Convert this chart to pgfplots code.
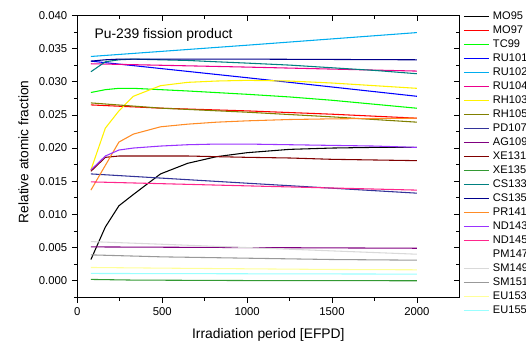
\documentclass[border=0pt]{standalone}
\usepackage{pgfplots}
\pgfplotsset{compat=1.18}
\usepackage{fontspec}
\setmainfont{Liberation Sans}
\definecolor{cOlive}{rgb}{0.5,0.5,0}
\definecolor{cPD}{rgb}{0.2,0.2,0.6}
\definecolor{cAG}{rgb}{0.5,0,0.5}
\definecolor{cXE1}{rgb}{0.5,0,0}
\definecolor{cXE5}{rgb}{0.2,0.6,0.2}
\definecolor{cCS3}{rgb}{0,0.5,0.5}
\definecolor{cCS5}{rgb}{0,0,0.55}
\definecolor{cPR}{rgb}{1,0.55,0.15}
\definecolor{cND3}{rgb}{0.6,0.2,1}
\definecolor{cND5}{rgb}{1,0.15,0.55}
\definecolor{cSM9}{rgb}{0.85,0.85,0.85}
\definecolor{cSM1}{rgb}{0.6,0.6,0.6}
\definecolor{cEU3}{rgb}{1,1,0.6}
\definecolor{cEU5}{rgb}{0.6,1,1}
\begin{document}
\begin{tikzpicture}
\useasboundingbox (-58pt,-35pt) rectangle (336.5pt,223pt);
\begin{axis}[
  at={(0pt,0pt)}, anchor=south west,
  width=286.5pt, height=211.5pt, scale only axis,
  xmin=0, xmax=2250, ymin=-0.0025, ymax=0.040,
  xtick={0,500,1000,1500,2000},
  minor xtick={250,750,1250,1750},
  ytick={0,0.005,0.010,0.015,0.020,0.025,0.030,0.035,0.040},
  minor ytick={-0.0025,0.0025,0.0075,0.0125,0.0175,0.0225,0.0275,0.0325,0.0375},
  scaled y ticks=false, scaled x ticks=false,
  xticklabel style={/pgf/number format/set thousands separator={}},
  yticklabel style={/pgf/number format/fixed,/pgf/number format/precision=3,/pgf/number format/fixed zerofill},
  /pgf/number format/assume math mode=true,
  ticklabel style={font=\fontsize{8.5}{10}\selectfont},
  tick align=outside, tick pos=left,
  major tick length=4pt, minor tick length=2.5pt,
  tick style={black, line width=0.5pt},
  axis line style={line width=0.7pt},
  xlabel={Irradiation period [EFPD]},
  ylabel={Relative atomic fraction},
  xlabel style={at={(axis description cs:0.5,-0.1454)}, anchor=base, font=\fontsize{10.4}{12}\selectfont},
  ylabel style={at={(axis description cs:-0.1283,0.516)}, anchor=base, font=\fontsize{10.3}{12}\selectfont},
  every axis plot/.append style={line width=0.8pt},
  legend style={at={(rel axis cs:1,1)}, anchor=north west, xshift=2.8pt, yshift=3.5pt,
    draw=none, fill=none, inner xsep=0pt, inner ysep=0pt,
    nodes={inner sep=0pt, text height=6.2pt, text depth=1.6pt},
    row sep=2.7pt, column sep=2.6pt,
    font=\fontsize{8.3}{9}\selectfont},
  legend cell align=left,
  legend image code/.code={\draw[#1, line width=0.9pt] (0pt,0pt) -- (18.75pt,0pt);},
]
% MO95
\addplot[color=black] coordinates {(80,0.0032)(165,0.0081)(245,0.0113)(330,0.0130)(490,0.0161)(650,0.0177)(820,0.0187)(1000,0.0193)(1250,0.0198)(1500,0.0200)(1750,0.0201)(2000,0.0201)};
\addlegendentry{MO95}
% MO97
\addplot[color=red] coordinates {(80,0.0265)(500,0.0260)(1000,0.0256)(1500,0.0251)(2000,0.0245)};
\addlegendentry{MO97}
% TC99
\addplot[color=green] coordinates {(80,0.02837)(165,0.0288)(245,0.0290)(330,0.0290)(490,0.0288)(650,0.0286)(1000,0.0281)(1250,0.0277)(1500,0.0272)(1750,0.0266)(2000,0.0260)};
\addlegendentry{TC99}
% RU101
\addplot[color=blue] coordinates {(80,0.0331)(1000,0.0306)(2000,0.0278)};
\addlegendentry{RU101}
% RU102
\addplot[color=cyan] coordinates {(80,0.0338)(1000,0.0355)(2000,0.0374)};
\addlegendentry{RU102}
% RU104
\addplot[color=magenta] coordinates {(80,0.0327)(1000,0.0322)(2000,0.0316)};
\addlegendentry{RU104}
% RH103
\addplot[color=yellow] coordinates {(80,0.0167)(165,0.0230)(245,0.0256)(330,0.0278)(490,0.0294)(650,0.0299)(820,0.0301)(1000,0.0302)(1250,0.0301)(1500,0.0298)(1750,0.0294)(2000,0.0290)};
\addlegendentry{RH103}
% RH105
\addplot[color=cOlive] coordinates {(80,0.0268)(500,0.0260)(1000,0.0254)(1500,0.0247)(2000,0.0239)};
\addlegendentry{RH105}
% PD107
\addplot[color=cPD] coordinates {(80,0.0161)(1000,0.0147)(2000,0.0132)};
\addlegendentry{PD107}
% AG109
\addplot[color=cAG] coordinates {(80,0.0051)(1000,0.0050)(2000,0.0049)};
\addlegendentry{AG109}
% XE131
\addplot[color=cXE1] coordinates {(80,0.0165)(165,0.0186)(245,0.0188)(330,0.0188)(490,0.0188)(650,0.0188)(820,0.0187)(1000,0.0186)(1250,0.0185)(1500,0.0183)(1750,0.0182)(2000,0.0181)};
\addlegendentry{XE131}
% XE135
\addplot[color=cXE5] coordinates {(80,0.0002)(330,0.0001)(1000,0.00003)(2000,0.0)};
\addlegendentry{XE135}
% CS133
\addplot[color=cCS3] coordinates {(80,0.0315)(165,0.0330)(245,0.0333)(330,0.0334)(490,0.0333)(650,0.0332)(820,0.0330)(1000,0.0328)(1250,0.0325)(1500,0.0321)(1750,0.0317)(2000,0.0312)};
\addlegendentry{CS133}
% CS135
\addplot[color=cCS5] coordinates {(80,0.0331)(165,0.0333)(245,0.0334)(1000,0.0334)(2000,0.0333)};
\addlegendentry{CS135}
% PR141
\addplot[color=cPR] coordinates {(80,0.01366)(245,0.0209)(330,0.0221)(490,0.0232)(650,0.0236)(820,0.0239)(1000,0.0241)(1250,0.0243)(1500,0.0244)(1750,0.02445)(2000,0.0245)};
\addlegendentry{PR141}
% ND143
\addplot[color=cND3] coordinates {(80,0.0167)(165,0.0188)(245,0.0197)(330,0.0200)(490,0.0203)(650,0.0205)(820,0.0206)(1000,0.0206)(1250,0.0205)(1500,0.0204)(1750,0.0203)(2000,0.0201)};
\addlegendentry{ND143}
% ND145
\addplot[color=cND5] coordinates {(80,0.0149)(1000,0.0143)(2000,0.01366)};
\addlegendentry{ND145}
% PM147 (white)
\addlegendimage{color=white}
\addlegendentry{PM147}
% SM149
\addplot[color=cSM9] coordinates {(80,0.0059)(500,0.0055)(1000,0.0050)(1500,0.0045)(2000,0.0040)};
\addlegendentry{SM149}
% SM151
\addplot[color=cSM1] coordinates {(80,0.0039)(500,0.0036)(1000,0.0034)(1500,0.0032)(2000,0.0031)};
\addlegendentry{SM151}
% EU153
\addplot[color=cEU3] coordinates {(80,0.0020)(500,0.0019)(1000,0.0018)(1500,0.0017)(2000,0.00165)};
\addlegendentry{EU153}
% EU155
\addplot[color=cEU5] coordinates {(80,0.0011)(1000,0.00105)(2000,0.0010)};
\addlegendentry{EU155}
\node[anchor=base west, font=\fontsize{10.4}{12}\selectfont] at (rel axis cs:0.033,0.918) {Pu-239 fission product};
\end{axis}
\begin{axis}[
  at={(0pt,0pt)}, anchor=south west,
  width=286.5pt, height=211.5pt, scale only axis,
  xmin=0, xmax=2250, ymin=-0.0025, ymax=0.040,
  xtick={0,500,1000,1500,2000},
  minor xtick={250,750,1250,1750},
  ytick={0,0.005,0.010,0.015,0.020,0.025,0.030,0.035,0.040},
  minor ytick={-0.0025,0.0025,0.0075,0.0125,0.0175,0.0225,0.0275,0.0325,0.0375},
  scaled y ticks=false, scaled x ticks=false,
  xticklabels={}, yticklabels={},
  tick align=inside, tick pos=right,
  major tick length=4pt, minor tick length=2.5pt,
  tick style={black, line width=0.5pt},
  axis line style={line width=0.7pt},
]
\end{axis}
\end{tikzpicture}
\end{document}
